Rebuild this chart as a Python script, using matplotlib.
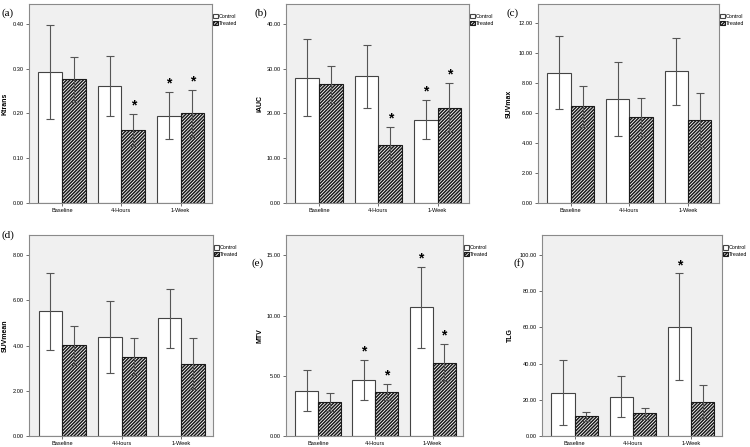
import numpy as np
import matplotlib
matplotlib.use("Agg")
import matplotlib.pyplot as plt
from matplotlib.ticker import FormatStrFormatter

plt.rcParams['font.family'] = ['Liberation Sans', 'DejaVu Sans']
plt.rcParams['hatch.linewidth'] = 1.1

groups = ["Baseline", "4-Hours", "1-Week"]

# means and error half-widths
ktrans_ctrl = [0.293, 0.262, 0.195]
ktrans_ctrl_err = [0.105, 0.067, 0.052]
ktrans_trt = [0.276, 0.163, 0.200]
ktrans_trt_err = [0.050, 0.035, 0.052]

iauc_ctrl = [27.9, 28.3, 18.6]
iauc_ctrl_err = [8.6, 7.0, 4.4]
iauc_trt = [26.5, 13.0, 21.3]
iauc_trt_err = [4.1, 3.9, 5.5]

suvmax_ctrl = [8.72, 6.94, 8.79]
suvmax_ctrl_err = [2.44, 2.47, 2.25]
suvmax_trt = [6.45, 5.78, 5.55]
suvmax_trt_err = [1.40, 1.27, 1.83]

suvmean_ctrl = [5.52, 4.39, 5.21]
suvmean_ctrl_err = [1.69, 1.60, 1.32]
suvmean_trt = [4.01, 3.52, 3.19]
suvmean_trt_err = [0.87, 0.81, 1.13]

mtv_ctrl = [3.77, 4.66, 10.70]
mtv_ctrl_err = [1.70, 1.68, 3.36]
mtv_trt = [2.83, 3.66, 6.10]
mtv_trt_err = [0.75, 0.67, 1.55]

tlg_ctrl = [24.0, 21.8, 60.3]
tlg_ctrl_err = [17.8, 11.2, 29.5]
tlg_trt = [10.9, 12.6, 19.0]
tlg_trt_err = [2.6, 3.1, 9.3]

# significance stars (1 = star)
ktrans_sig = ([0, 0, 1], [0, 1, 1])
iauc_sig = ([0, 0, 1], [0, 1, 1])
suvmax_sig = ([0, 0, 0], [0, 0, 0])
suvmean_sig = ([0, 0, 0], [0, 0, 0])
mtv_sig = ([0, 1, 1], [0, 1, 1])
tlg_sig = ([0, 0, 1], [0, 0, 0])

panels = [
    # label, ylabel, ctrl, ctrl_err, trt, trt_err, sig, ymax, ystep, axes rect (px), ylabel offset px, panel label pos px
    ("(a)", "Ktrans", ktrans_ctrl, ktrans_ctrl_err, ktrans_trt, ktrans_trt_err, ktrans_sig, 0.444, 0.10,
     (29, 4, 212, 203), 20, (8, 13)),
    ("(b)", "iAUC", iauc_ctrl, iauc_ctrl_err, iauc_trt, iauc_trt_err, iauc_sig, 44.4, 10,
     (286, 4, 469, 203), 23, (261, 13)),
    ("(c)", "SUVmax", suvmax_ctrl, suvmax_ctrl_err, suvmax_trt, suvmax_trt_err, suvmax_sig, 13.3, 2,
     (538, 4, 719, 203), 25, (513, 13)),
    ("(d)", "SUVmean", suvmean_ctrl, suvmean_ctrl_err, suvmean_trt, suvmean_trt_err, suvmean_sig, 8.9, 2,
     (29, 235, 213, 436), 20, (8, 235)),
    ("(e)", "MTV", mtv_ctrl, mtv_ctrl_err, mtv_trt, mtv_trt_err, mtv_sig, 16.7, 5,
     (286, 235, 463, 436), 23, (258, 263)),
    ("(f)", "TLG", tlg_ctrl, tlg_ctrl_err, tlg_trt, tlg_trt_err, tlg_sig, 111, 20,
     (542, 235, 722, 436), 28, (519, 263)),
]

W, H = 750, 447
fig = plt.figure(figsize=(7.5, 4.47), dpi=100)

x = np.arange(len(groups))
bw = 0.40

for (lab, ylab, c, ce, t, te, sig, ymax, ystep, rect, yoff, lpos) in panels:
    x0, y0, x1, y1 = rect
    ax = fig.add_axes([x0 / W, 1 - y1 / H, (x1 - x0) / W, (y1 - y0) / H])
    ax.set_facecolor('#f0f0f0')
    for s in ax.spines.values():
        s.set_color('#8a8a8a')
        s.set_linewidth(0.8)

    ax.bar(x - bw / 2, c, bw, color='white', edgecolor='#444444', linewidth=0.8, zorder=2,
           label='Control')
    ax.bar(x + bw / 2, t, bw, color='white', edgecolor='#1a1a1a', linewidth=0.8, hatch='//////////',
           zorder=2, label='Treated')
    ax.errorbar(x - bw / 2, c, yerr=ce, fmt='none', ecolor='#555555', elinewidth=0.8,
                capsize=3, capthick=0.8, zorder=3)
    ax.errorbar(x + bw / 2, t, yerr=te, fmt='none', ecolor='#555555', elinewidth=0.8,
                capsize=3, capthick=0.8, zorder=3)

    for i in range(len(groups)):
        if sig[0][i]:
            ax.annotate('*', (x[i] - bw / 2, c[i] + ce[i]), xytext=(0, 1), textcoords='offset points',
                        ha='center', va='bottom', fontsize=10, fontweight='bold')
        if sig[1][i]:
            ax.annotate('*', (x[i] + bw / 2, t[i] + te[i]), xytext=(0, 1), textcoords='offset points',
                        ha='center', va='bottom', fontsize=10, fontweight='bold')

    ax.set_xlim(-0.56, 2.53)
    ax.set_ylim(0, ymax)
    ax.set_yticks(np.arange(0, ymax, ystep))
    ax.yaxis.set_major_formatter(FormatStrFormatter('%.2f'))
    ax.set_xticks(x)
    ax.set_xticklabels(groups)
    ax.tick_params(axis='both', labelsize=4.1, length=2.5, width=0.6, color='#555555', pad=1)
    ax.set_ylabel(ylab, fontsize=5, fontweight='bold')
    ax.yaxis.set_label_coords(-yoff / (x1 - x0), 0.5)

    ax.legend(loc='upper left', bbox_to_anchor=(1.005, 0.95), frameon=False, fontsize=3.9,
              handlelength=0.9, handleheight=0.9, handletextpad=0.2, borderaxespad=0,
              labelspacing=0.3, borderpad=0)

    fig.text(lpos[0] / W, 1 - lpos[1] / H, lab, family='Liberation Serif', fontsize=8,
             ha='center', va='center')

fig.savefig('out.png', dpi=100, facecolor='white')
